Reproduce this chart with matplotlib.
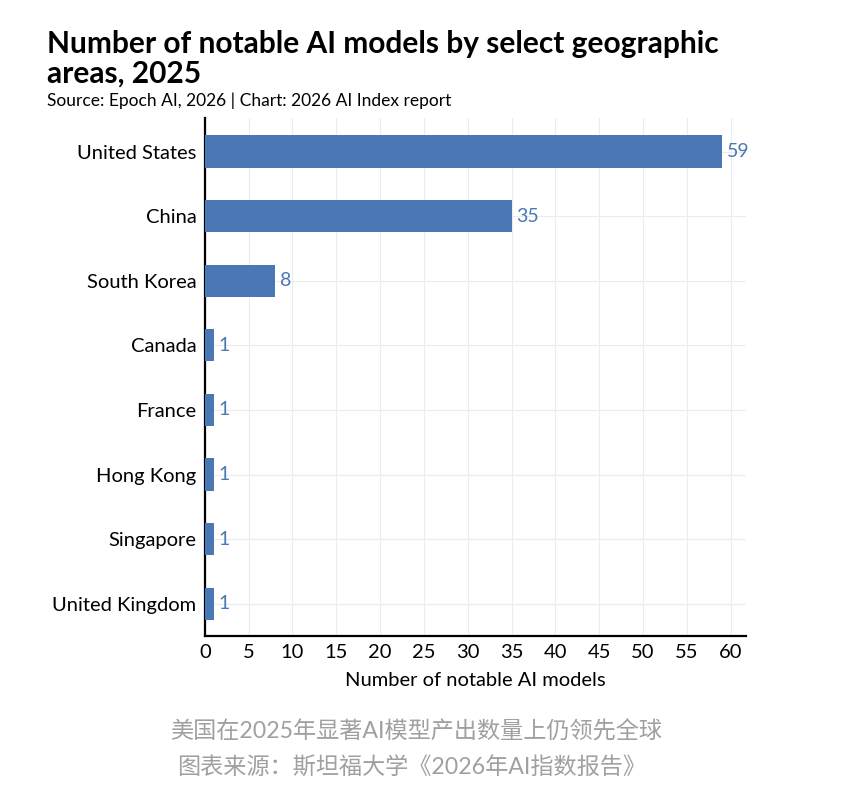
import matplotlib
matplotlib.use("Agg")
import matplotlib.pyplot as plt

plt.rcParams['font.family'] = ['Lato', 'Noto Sans CJK SC', 'DejaVu Sans']

regions = ["United States", "China", "South Korea", "Canada", "France",
           "Hong Kong", "Singapore", "United Kingdom"]
models = [59, 35, 8, 1, 1, 1, 1, 1]
xticks = list(range(0, 61, 5))

bar_color = "#4a78b5"

fig = plt.figure(figsize=(8.64, 8), dpi=100)
ax = fig.add_axes([0.237, 0.205, 0.626, 0.6475])

ypos = list(range(len(regions)))
ax.barh(ypos, models, height=0.5, color=bar_color, zorder=3)
for y, v in zip(ypos, models):
    ax.text(v + 0.55, y, str(v), va="center", ha="left", color=bar_color, fontsize=14)

ax.set_yticks(ypos)
ax.set_yticklabels(regions, fontsize=14.5)
ax.set_ylim(len(regions) - 0.5, -0.52)
ax.set_xlim(0, 61.7)
ax.set_xticks(xticks)
ax.set_xticklabels([str(t) for t in xticks], fontsize=14.5)
ax.tick_params(length=0, pad=6)
ax.set_xlabel("Number of notable AI models", fontsize=14.5, labelpad=8)

ax.grid(True, color="#ececec", linewidth=0.8, zorder=0)
for s in ["top", "right"]:
    ax.spines[s].set_visible(False)
ax.spines["left"].set_linewidth(1.6)
ax.spines["bottom"].set_linewidth(1.6)

fig.text(0.054, 0.891, "Number of notable AI models by select geographic\nareas, 2025",
         fontsize=21.5, fontweight="bold", va="bottom", ha="left", linespacing=1.05)
fig.text(0.054, 0.874, "Source: Epoch AI, 2026 | Chart: 2026 AI Index report",
         fontsize=12.5, va="center", ha="left")

fig.text(0.482, 0.086, "美国在2025年显著AI模型产出数量上仍领先全球",
         fontsize=16.7, color="#a0a0a0", ha="center", va="center")
fig.text(0.476, 0.04, "图表来源：斯坦福大学《2026年AI指数报告》",
         fontsize=16.7, color="#a0a0a0", ha="center", va="center")

fig.savefig("out.png", dpi=100, facecolor="white")
